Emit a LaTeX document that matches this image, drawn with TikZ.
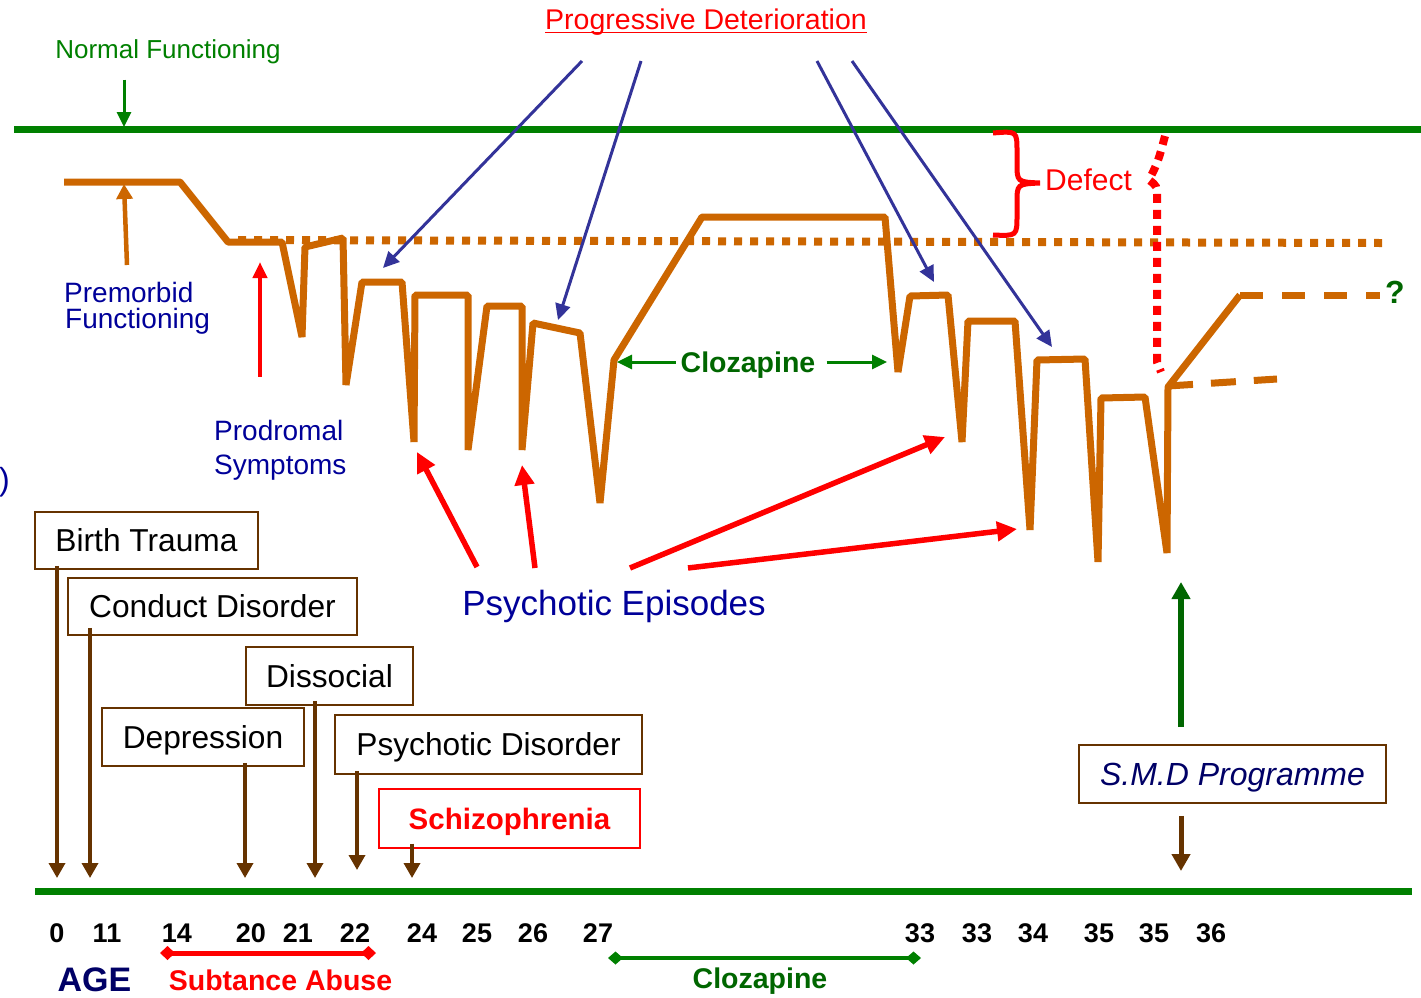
\documentclass[tikz,border=0pt]{standalone}
\usepackage{fontspec}
\setmainfont{Liberation Sans}
\usetikzlibrary{arrows.meta}
\definecolor{curve}{HTML}{CC6600}
\definecolor{normgreen}{HTML}{008000}
\definecolor{clozgreen}{HTML}{006600}
\definecolor{labelblue}{HTML}{000099}
\definecolor{agenavy}{HTML}{000066}
\definecolor{arrowblue}{HTML}{333399}
\definecolor{boxbrown}{HTML}{663300}
\newcommand{\fsz}[1]{\fontsize{#1}{#1}\selectfont}

\begin{document}
\begin{tikzpicture}[x=1pt, y=-1pt, every node/.style={inner sep=0pt},
  evbox/.style={draw=boxbrown, line width=1.6pt, text height=22.7pt, text depth=0pt, font=\fsz{31.7}},
  brownarrow/.style={boxbrown, line width=3.5pt, -{Triangle[length=15pt, width=16pt]}},
  redarrow/.style={red, line width=5.5pt, -{Triangle[length=20pt, width=19pt]}},
  bluearrow/.style={arrowblue, line width=3pt, -{Triangle[length=16pt, width=15pt]}},
  greenarrow/.style={normgreen, line width=3pt, -{Triangle[length=15pt, width=14pt]}},
  agenum/.style={anchor=base, font=\fsz{27}\bfseries}]

\useasboundingbox (0,0) rectangle (1421,997);

% Reference lines
\draw[normgreen, line width=7pt] (14,129) -- (1421,129);
\draw[normgreen, line width=7pt] (35,891) -- (1412,891);
\draw[curve, line width=8pt, dash pattern=on 8pt off 8pt] (238,240) -- (1382,243);

% Course of illness
\draw[curve, line width=7pt, line join=bevel] (64,182) -- (180,182) -- (228,242) -- (282,242)
  -- (302,337) -- (305,247) -- (343,238) -- (346,385) -- (362,282) -- (402,282)
  -- (414,442) -- (415,295) -- (468,295) -- (468,450) -- (487,306) -- (522,306)
  -- (522,450) -- (533,323) -- (580,333) -- (600,503) -- (614,360) -- (702,217)
  -- (885,217) -- (898,372) -- (910,296) -- (948,295) -- (962,442) -- (968,321)
  -- (1015,321) -- (1030,530) -- (1037,360) -- (1085,359) -- (1098,562) -- (1101,398)
  -- (1145,397) -- (1167,553) -- (1168,387) -- (1240,295);
\draw[curve, line width=7pt, dash pattern=on 23pt off 19pt] (1240,295) -- (1380,295);
\draw[curve, line width=7pt, dash pattern=on 25pt off 18pt] (1168,386) -- (1277,379);

% Top labels
\node[anchor=base, font=\fsz{26}, text=normgreen] (normal) at (168,58) {Normal Functioning};
\coordinate (normtip) at (124,127);
\draw[greenarrow] (normal.south -| normtip) ++(0,16) -- (normtip);

\node[anchor=base, font=\fsz{28.5}, text=red] (prog) at (706,29) {Progressive Deterioration};
\draw[red, line width=1.6pt] ([yshift=-3.5pt]prog.base west) -- ([yshift=-3.5pt]prog.base east);
\coordinate (pd1) at (582,61); \coordinate (dt1) at (383,268);
\coordinate (pd2) at (641,61); \coordinate (dt2) at (558,320);
\coordinate (pd3) at (817,61); \coordinate (dt3) at (934,282);
\coordinate (pd4) at (852,61); \coordinate (dt4) at (1052,347);
\draw[bluearrow] (pd1) -- (dt1);
\draw[bluearrow] (pd2) -- (dt2);
\draw[bluearrow] (pd3) -- (dt3);
\draw[bluearrow] (pd4) -- (dt4);

% Premorbid and prodromal
\node[anchor=base west, font=\fsz{28}, text=labelblue] (premorb) at (64,302) {Premorbid};
\node[anchor=base west, font=\fsz{28}, text=labelblue] (premorb2) at (65,328) {Functioning};
\coordinate (premtip) at (124,184);
\draw[curve, line width=4.5pt, -{Triangle[length=15pt, width=16pt]}] (127,265) -- (premtip);

\node[anchor=base west, font=\fsz{28}, text=labelblue] (prodrom) at (214,440) {Prodromal};
\node[anchor=base west, font=\fsz{28}, text=labelblue] (prodrom2) at (214,474) {Symptoms};
\coordinate (prodtip) at (260,262);
\draw[red, line width=4pt, -{Triangle[length=16pt, width=14pt]}] (prodrom.north -| prodtip) ++(0,-43) -- (prodtip);

\node[anchor=east, font=\fsz{32}, text=labelblue] (paren) at (10,482) {)};

% Clozapine phase
\node[anchor=base, font=\fsz{28.5}\bfseries, text=clozgreen] (clozmid) at (748,372) {Clozapine};
\coordinate (cozl) at (617,362);
\coordinate (cozr) at (887,362);
\draw[greenarrow] ([xshift=-5pt]clozmid.west |- cozl) -- (cozl);
\draw[greenarrow] ([xshift=11pt]clozmid.east |- cozr) -- (cozr);

% Defect
\draw[red, line width=5pt] (993,133) .. controls (1017,131) .. (1017,152) -- (1017,163)
  .. controls (1017,182) .. (1040,183) .. controls (1017,184) .. (1017,203) -- (1017,215)
  .. controls (1017,236) .. (993,235);
\node[anchor=base west, font=\fsz{30}, text=red] (defect) at (1045,190) {Defect};
\draw[red, line width=8pt, dash pattern=on 9pt off 7pt] (1165,136) .. controls (1158,162) .. (1149,180)
  .. controls (1157,186) .. (1157,198) -- (1157,362) -- (1161,372);
\node[anchor=base, font=\fsz{32}\bfseries, text=clozgreen] (unknown) at (1395,303) {?};

% Psychotic episodes
\node[anchor=base, font=\fsz{35}, text=labelblue] (psyep) at (614,615) {Psychotic Episodes};
\coordinate (pe1) at (477,567); \coordinate (ep1) at (417,452);
\coordinate (pe2) at (535,568); \coordinate (ep2) at (522,465);
\coordinate (pe3) at (630,568); \coordinate (ep3) at (945,437);
\coordinate (pe4) at (688,568); \coordinate (ep4) at (1017,529);
\draw[redarrow] (pe1) -- (ep1);
\draw[redarrow] (pe2) -- (ep2);
\draw[redarrow] (pe3) -- (ep3);
\draw[redarrow] (pe4) -- (ep4);

% Risk factor boxes
\node[evbox, minimum width=223pt, minimum height=57pt] (birth) at (146.5,540.5) {Birth Trauma};
\node[evbox, minimum width=289pt, minimum height=57pt] (conduct) at (212.5,606.5) {Conduct Disorder};
\node[evbox, minimum width=167pt, minimum height=58pt] (dissoc) at (329.5,676) {Dissocial};
\node[evbox, minimum width=202pt, minimum height=58pt] (depress) at (203,737) {Depression};
\node[evbox, minimum width=307pt, minimum height=59pt] (psydis) at (488.5,744.5) {Psychotic Disorder};
\node[evbox, draw=red, line width=1.3pt, text height=21pt, font=\fsz{29.5}\bfseries, text=red,
  minimum width=261pt, minimum height=59pt] (schizo) at (509.5,818.5) {Schizophrenia};

\coordinate (t0) at (57,878);
\coordinate (t11) at (90,878);
\coordinate (t20) at (245,878);
\coordinate (t21) at (315,878);
\coordinate (t22) at (357,870);
\coordinate (t24) at (412,878);
\draw[brownarrow] ([yshift=4pt]birth.south -| t0) -- (t0);
\draw[brownarrow] ([yshift=8pt]conduct.south -| t11) -- (t11);
\draw[brownarrow] ([yshift=4pt]depress.south -| t20) -- (t20);
\draw[brownarrow] ([yshift=5pt]dissoc.south -| t21) -- (t21);
\draw[brownarrow] ([yshift=4pt]psydis.south -| t22) -- (t22);
\draw[brownarrow] ([yshift=5pt]schizo.south -| t24) -- (t24);

% S.M.D programme
\node[evbox, text height=23pt, font=\fsz{32}\itshape, text=agenavy,
  minimum width=307pt, minimum height=58pt] (smd) at (1232.5,774) {S.M.D Programme};
\coordinate (smdup) at (1181,582);
\coordinate (smddown) at (1181,871);
\draw[clozgreen, line width=6pt, -{Triangle[length=17pt, width=18pt]}] ([yshift=17pt]smd.north -| smdup) -- (smdup);
\draw[boxbrown, line width=5pt, -{Triangle[length=17pt, width=18pt]}] ([yshift=-12pt]smd.south -| smddown) -- (smddown);

% Age axis
\foreach \x/\a [count=\i] in {57/0, 107/11, 177/14, 251/20, 298/21, 355/22, 422/24, 477/25,
  533/26, 598/27, 920/33, 977/33, 1033/34, 1099/35, 1154/35, 1211/36}
  \node[agenum] (age\i) at (\x,942) {\a};
\node[anchor=base, font=\fsz{34}\bfseries, text=agenavy] (agelbl) at (94.5,991) {AGE};

% Periods
\coordinate (sa1) at (160,953); \coordinate (sa2) at (376,953);
\draw[red, line width=5pt, {Diamond[length=15pt, width=14pt]}-{Diamond[length=15pt, width=14pt]}] (sa1) -- (sa2);
\node[anchor=base, font=\fsz{28.5}\bfseries, text=red] (subst) at (280.5,990) {Subtance Abuse};
\coordinate (cz1) at (608,958); \coordinate (cz2) at (921,958);
\draw[normgreen, line width=4pt, {Diamond[length=15pt, width=13pt]}-{Diamond[length=15pt, width=13pt]}] (cz1) -- (cz2);
\node[anchor=base, font=\fsz{28.5}\bfseries, text=clozgreen] (clozlow) at (760,988) {Clozapine};

\end{tikzpicture}
\end{document}
